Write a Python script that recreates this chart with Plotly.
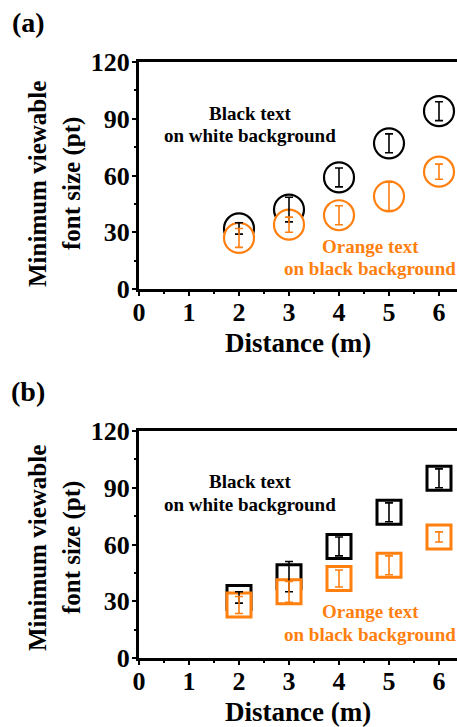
import plotly.graph_objects as go

# ---------------- data ----------------
distance = [2, 3, 4, 5, 6]
x_ticks = [0, 1, 2, 3, 4, 5, 6]
y_ticks = [0, 30, 60, 90, 120]

# panel (a) circles
a_black = [32, 42, 59, 77, 94]
a_black_err = [3, 6.5, 5, 5, 5]
a_orange = [27, 34, 39, 49, 62]
a_orange_err = [5, 4, 5, 7.5, 4]

# panel (b) squares
b_black = [32, 43, 59, 77, 95]
b_black_err = [3, 8, 5, 5, 5]
b_orange = [28, 35, 42, 49, 64]
b_orange_err = [4.5, 5.5, 4.5, 5, 2.7]

BLACK = "#000000"
ORANGE = "#FF7F0F"
FONT = '"Liberation Serif", "Times New Roman", Times, serif'

# ---------------- layout geometry (pixels) ----------------
W, H = 457, 727
L, R = 139, 457
TOP, BOT = 62, 658


def px_x(p):
    return (p - L) / (R - L)


def px_y(p):
    return (BOT - p) / (BOT - TOP)


dom_a = [px_y(289), 1.0]
dom_b = [0.0, px_y(431)]

fig = go.Figure()


def add_panel(xa, ya, yb, yb_err, yo, yo_err, symbol, msize, mlw, ew):
    # markers (white-filled, orange above black)
    fig.add_trace(go.Scatter(x=distance, y=yb, mode="markers", xaxis=xa, yaxis=ya,
                             marker=dict(symbol=symbol, size=msize, color="white",
                                         line=dict(color=BLACK, width=mlw)),
                             showlegend=False, hoverinfo="skip"))
    fig.add_trace(go.Scatter(x=distance, y=yo, mode="markers", xaxis=xa, yaxis=ya,
                             marker=dict(symbol=symbol, size=msize, color="white",
                                         line=dict(color=ORANGE, width=mlw)),
                             showlegend=False, hoverinfo="skip"))
    # error bars on top
    fig.add_trace(go.Scatter(x=distance, y=yb, mode="markers", xaxis=xa, yaxis=ya,
                             marker=dict(size=1, color="rgba(0,0,0,0)"),
                             error_y=dict(type="data", array=yb_err, visible=True,
                                          color=BLACK, thickness=1.6, width=ew),
                             showlegend=False, hoverinfo="skip"))
    fig.add_trace(go.Scatter(x=distance, y=yo, mode="markers", xaxis=xa, yaxis=ya,
                             marker=dict(size=1, color="rgba(0,0,0,0)"),
                             error_y=dict(type="data", array=yo_err, visible=True,
                                          color=ORANGE, thickness=1.6, width=ew),
                             showlegend=False, hoverinfo="skip"))


add_panel("x", "y", a_black, a_black_err, a_orange, a_orange_err, "circle", 30, 2.2, 4)
add_panel("x2", "y2", b_black, b_black_err, b_orange, b_orange_err, "square", 24, 3, 4)

tickfont = dict(family=FONT, size=26, color="black", weight="bold")

xax = dict(range=[0, (R - L) / 50.0], tickvals=x_ticks, ticktext=[str(v) for v in x_ticks],
           showline=True, linewidth=3, linecolor="black", mirror=True,
           ticks="outside", ticklen=4, tickwidth=2, tickcolor="black",
           ticklabelstandoff=-6,
           minor=dict(dtick=0.5, ticks="outside", ticklen=2, tickwidth=1.5, tickcolor="black"),
           showgrid=False, zeroline=False, tickfont=tickfont, domain=[0, 1], fixedrange=True)
yax = dict(range=[0, 120], tickvals=y_ticks, ticktext=[str(v) for v in y_ticks],
           showline=True, linewidth=3, linecolor="black", mirror=False,
           ticks="outside", ticklen=4, tickwidth=2, tickcolor="black",
           ticklabelstandoff=-3,
           minor=dict(dtick=15, ticks="outside", ticklen=2, tickwidth=1.5, tickcolor="black"),
           showgrid=False, zeroline=False, tickfont=tickfont, fixedrange=True)

fig.update_layout(
    width=W, height=H,
    margin=dict(l=L, r=W - R, t=TOP, b=H - BOT, pad=0),
    paper_bgcolor="white", plot_bgcolor="white",
    font=dict(family=FONT),
    xaxis=dict(xax, anchor="y"),
    yaxis=dict(yax, domain=dom_a, anchor="x"),
    xaxis2=dict(xax, anchor="y2"),
    yaxis2=dict(yax, domain=dom_b, anchor="x2"),
    showlegend=False,
)

annotations = []


def ann(text, x, y, size, color="black", angle=0, xref="paper", yref="paper"):
    annotations.append(dict(text="<b>" + text + "</b>", x=x, y=y, xref=xref, yref=yref,
                            showarrow=False, xanchor="center", yanchor="middle",
                            textangle=angle,
                            font=dict(family=FONT, size=size, color=color)))


# panel labels
ann("(a)", px_x(28), px_y(23), 28)
ann("(b)", px_x(28), px_y(392), 28)

# axis titles
for ycen, xt in [(184, 343), (360 + 188, 712)]:
    ann("Minimum viewable", px_x(37), px_y(ycen), 25, angle=-90)
    ann("font size (pt)", px_x(72), px_y(ycen), 25, angle=-90)
    ann("Distance (m)", px_x(298), px_y(xt), 27)

# in-plot labels
for xr, yr, ys in [("x", "y", (93, 81, 22.3, 11)), ("x2", "y2", (93.5, 81.3, 24.4, 12.5))]:
    ann("Black text", 2.22, ys[0], 19, xref=xr, yref=yr)
    ann("on white background", 2.22, ys[1], 19, xref=xr, yref=yr)
    ann("Orange text", 4.62, ys[2], 19, color=ORANGE, xref=xr, yref=yr)
    ann("on black background", 4.62, ys[3], 19, color=ORANGE, xref=xr, yref=yr)

fig.update_layout(annotations=annotations)

fig.write_html("out.html", config=dict(displayModeBar=False),
               post_script="document.body.style.margin='0';document.body.style.overflow='hidden';")
